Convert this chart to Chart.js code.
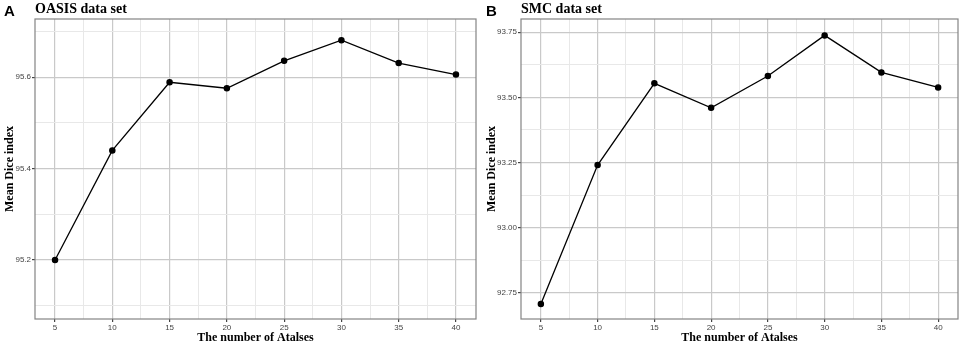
<!DOCTYPE html>
<html lang="en">
<head>
<meta charset="UTF-8">
<title>Mean Dice index vs number of atlases</title>
<script src="https://cdn.jsdelivr.net/npm/chart.js"></script>
<style>
    body { margin: 0; background: #fff; }
    #container { position: relative; width: 964px; height: 345px; }
    .painel { position: absolute; top: 0; width: 482px; height: 345px; }
    .letra { position: absolute; top: 2px; font: bold 15px "Liberation Sans", Arial, sans-serif; color: #000; }
    .titulo { position: absolute; top: 1px; font: bold 14px "Liberation Serif", "Times New Roman", serif; color: #000; }
</style>
</head>
<body>
<div id="container">
    <div class="painel" style="left:0"><canvas id="chartA" width="482" height="345"></canvas></div>
    <div class="painel" style="left:482px"><canvas id="chartB" width="482" height="345"></canvas></div>
    <div class="letra" style="left:4px">A</div>
    <div class="titulo" style="left:35px">OASIS data set</div>
    <div class="letra" style="left:486px">B</div>
    <div class="titulo" style="left:521px">SMC data set</div>
</div>

<script>
// number of atlases (x)
const atlases = [5, 10, 15, 20, 25, 30, 35, 40];

// mean dice index
const diceOasis = [95.200, 95.440, 95.589, 95.576, 95.636, 95.681, 95.631, 95.606];
const diceSmc = [92.707, 93.240, 93.554, 93.460, 93.582, 93.738, 93.596, 93.538];

// tick labels (major) and minor grid lines
const xMajor = [5, 10, 15, 20, 25, 30, 35, 40];
const xMinor = [7.5, 12.5, 17.5, 22.5, 27.5, 32.5, 37.5];
const yMajorA = [95.2, 95.4, 95.6];
const yMinorA = [95.1, 95.3, 95.5, 95.7];
const yMajorB = [92.75, 93.00, 93.25, 93.50, 93.75];
const yMinorB = [92.875, 93.125, 93.375, 93.625];

const fonteTick = { family: "'Liberation Sans', Arial, sans-serif", size: 8 };
const fonteEixo = { family: "'Liberation Serif', 'Times New Roman', serif", size: 12, weight: 'bold' };

// moldura do painel (theme_bw)
const moldura = {
    id: 'moldura',
    beforeDatasetsDraw(chart) {
        const a = chart.chartArea, ctx = chart.ctx;
        ctx.save();
        ctx.strokeStyle = '#848484';
        ctx.lineWidth = 1.2;
        ctx.strokeRect(a.left, a.top, a.right - a.left, a.bottom - a.top);
        ctx.restore();
    }
};

function ehMaior(lista, v) {
    return lista.some(m => Math.abs(m - v) < 1e-6);
}

function criarGrafico(id, dados, yMin, yMax, yMajor, yMinor, casas, largY) {
    const config = {
        type: 'line',
        data: {
            datasets: [{
                data: atlases.map((x, i) => ({ x: x, y: dados[i] })),
                borderColor: '#000',
                backgroundColor: '#000',
                borderWidth: 1.3,
                pointRadius: 2.6,
                pointHoverRadius: 2.6,
                tension: 0,
                fill: false
            }]
        },
        options: {
            responsive: false,
            animation: false,
            events: [],
            layout: { padding: { top: 19, right: 6, left: 0, bottom: 0 } },
            plugins: { legend: { display: false }, tooltip: { enabled: false } },
            scales: {
                x: {
                    type: 'linear',
                    min: 3.25,
                    max: 41.75,
                    afterBuildTicks: s => { s.ticks = xMajor.concat(xMinor).sort((a, b) => a - b).map(v => ({ value: v })); },
                    afterFit: s => { s.height = 26; },
                    border: { display: false },
                    grid: {
                        color: c => ehMaior(xMajor, c.tick.value) ? '#c9c9c9' : '#e8e8e8',
                        lineWidth: c => ehMaior(xMajor, c.tick.value) ? 1.2 : 1,
                        tickColor: c => ehMaior(xMajor, c.tick.value) ? '#444' : 'rgba(0,0,0,0)',
                        tickLength: 3
                    },
                    ticks: {
                        autoSkip: false,
                        maxRotation: 0,
                        padding: 1,
                        color: '#444',
                        font: fonteTick,
                        callback: v => ehMaior(xMajor, v) ? String(v) : ''
                    },
                    title: { display: true, text: 'The number of Atalses', color: '#000', font: fonteEixo, padding: { top: 0, bottom: 0 } }
                },
                y: {
                    min: yMin,
                    max: yMax,
                    afterBuildTicks: s => { s.ticks = yMajor.concat(yMinor).sort((a, b) => a - b).map(v => ({ value: v })); },
                    afterFit: s => { s.width = largY; },
                    border: { display: false },
                    grid: {
                        color: c => ehMaior(yMajor, c.tick.value) ? '#c9c9c9' : '#e8e8e8',
                        lineWidth: c => ehMaior(yMajor, c.tick.value) ? 1.2 : 1,
                        tickColor: c => ehMaior(yMajor, c.tick.value) ? '#444' : 'rgba(0,0,0,0)',
                        tickLength: 3
                    },
                    ticks: {
                        autoSkip: false,
                        padding: 1,
                        color: '#444',
                        font: fonteTick,
                        callback: v => ehMaior(yMajor, v) ? v.toFixed(casas) : ''
                    },
                    title: { display: true, text: 'Mean Dice index', color: '#000', font: fonteEixo, padding: { top: 3, bottom: 3 } }
                }
            }
        },
        plugins: [moldura]
    };
    return new Chart(document.getElementById(id), config);
}

criarGrafico('chartA', diceOasis, 95.071, 95.7275, yMajorA, yMinorA, 1, 35);
criarGrafico('chartB', diceSmc, 92.649, 93.801, yMajorB, yMinorB, 2, 39);
</script>
</body>
</html>
